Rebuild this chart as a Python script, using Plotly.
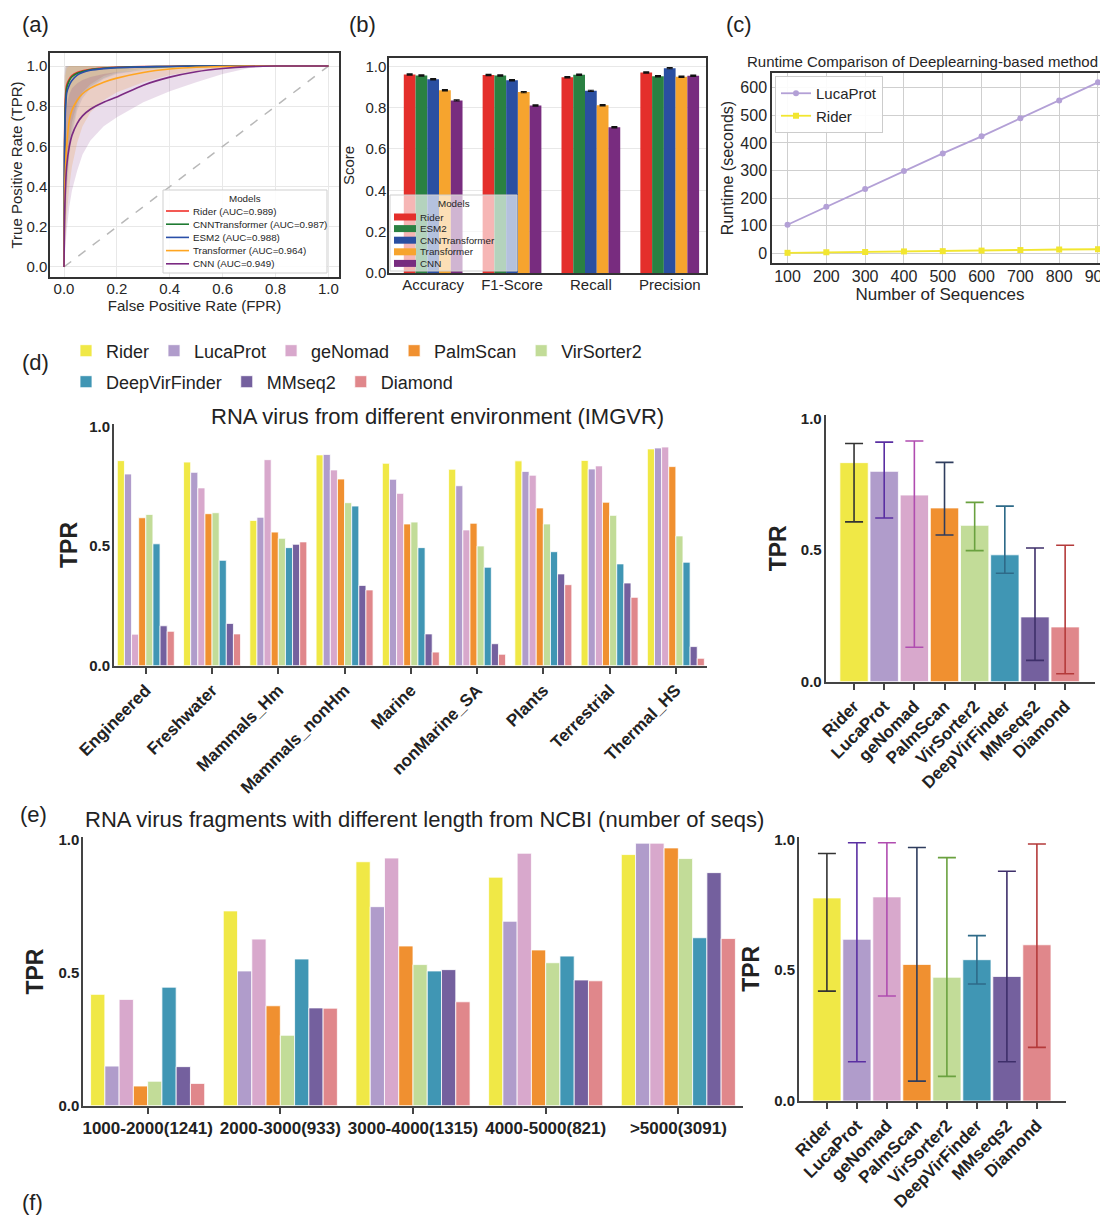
import plotly.graph_objects as go

# The page has an 8px body margin, so the figure occupies page pixels 8..1108 x 8..1220.
PAGE_OFF = 8
W, H = 1100, 1212
def fx(p):
    return (p - PAGE_OFF) / W
def fy(p):
    return 1 - (p - PAGE_OFF) / H

FONT = "Liberation Sans, Arial, Helvetica, sans-serif"
TXT = "#262626"

# ---------------- (a) ROC ----------------
roc_models = ["Rider", "CNNTransformer", "ESM2", "Transformer", "CNN"]
roc_auc = ["0.989", "0.987", "0.988", "0.964", "0.949"]
roc_fpr = [0, 0.002, 0.005, 0.01, 0.02, 0.03, 0.05, 0.07, 0.1, 0.15, 0.2, 0.3, 0.4, 0.5, 0.6, 0.7, 0.8, 1.0]
roc_tpr = {
    "Rider":          [0, 0.62, 0.84, 0.905, 0.935, 0.952, 0.968, 0.976, 0.984, 0.990, 0.994, 0.997, 0.999, 1, 1, 1, 1, 1],
    "CNNTransformer": [0, 0.58, 0.80, 0.890, 0.928, 0.947, 0.964, 0.973, 0.982, 0.989, 0.993, 0.996, 0.998, 1, 1, 1, 1, 1],
    "ESM2":           [0, 0.55, 0.76, 0.865, 0.905, 0.928, 0.955, 0.968, 0.979, 0.987, 0.992, 0.996, 0.998, 1, 1, 1, 1, 1],
    "Transformer":    [0, 0.35, 0.48, 0.600, 0.730, 0.780, 0.830, 0.862, 0.890, 0.920, 0.940, 0.968, 0.985, 0.994, 0.998, 1, 1, 1],
    "CNN":            [0, 0.25, 0.38, 0.500, 0.600, 0.655, 0.715, 0.752, 0.785, 0.820, 0.846, 0.905, 0.945, 0.972, 0.988, 0.997, 1, 1],
}
roc_hi = {
    "Rider":          [0, 0.95, 1, 1, 1, 1, 1, 1, 1, 1, 1, 1, 1, 1, 1, 1, 1, 1],
    "CNNTransformer": [0, 0.92, 1, 1, 1, 1, 1, 1, 1, 1, 1, 1, 1, 1, 1, 1, 1, 1],
    "ESM2":           [0, 0.90, 0.99, 1, 1, 1, 1, 1, 1, 1, 1, 1, 1, 1, 1, 1, 1, 1],
    "Transformer":    [0, 0.80, 0.95, 0.99, 1, 1, 1, 1, 1, 1, 1, 1, 1, 1, 1, 1, 1, 1],
    "CNN":            [0, 0.55, 0.70, 0.80, 0.86, 0.89, 0.915, 0.930, 0.945, 0.960, 0.970, 0.982, 0.990, 0.995, 0.998, 1, 1, 1],
}
roc_lo = {
    "Rider":          [0, 0.10, 0.25, 0.45, 0.62, 0.72, 0.82, 0.87, 0.91, 0.95, 0.97, 0.985, 0.993, 0.998, 1, 1, 1, 1],
    "CNNTransformer": [0, 0.08, 0.22, 0.40, 0.58, 0.68, 0.80, 0.86, 0.90, 0.94, 0.965, 0.982, 0.992, 0.997, 1, 1, 1, 1],
    "ESM2":           [0, 0.06, 0.18, 0.36, 0.55, 0.65, 0.78, 0.84, 0.89, 0.935, 0.96, 0.98, 0.99, 0.997, 1, 1, 1, 1],
    "Transformer":    [0, 0.04, 0.12, 0.25, 0.40, 0.50, 0.62, 0.70, 0.77, 0.83, 0.87, 0.92, 0.955, 0.975, 0.99, 1, 1, 1],
    "CNN":            [0, 0.03, 0.08, 0.18, 0.30, 0.38, 0.48, 0.56, 0.63, 0.70, 0.745, 0.82, 0.875, 0.92, 0.96, 0.99, 1, 1],
}
roc_colors = {"Rider": "#f0302a", "CNNTransformer": "#1f7a32", "ESM2": "#2a4fa8",
              "Transformer": "#ffa520", "CNN": "#7b2a82"}
roc_fill = {"Rider": "rgba(240,48,42,0.16)", "CNNTransformer": "rgba(31,122,50,0.12)",
            "ESM2": "rgba(42,79,168,0.12)", "Transformer": "rgba(255,165,32,0.20)",
            "CNN": "rgba(123,42,130,0.16)"}
diag = [0, 1]

# ---------------- (b) metrics ----------------
b_metrics = ["Accuracy", "F1-Score", "Recall", "Precision"]
b_models = ["Rider", "ESM2", "CNNTransformer", "Transformer", "CNN"]
b_vals = {
    "Rider":          [0.960, 0.958, 0.947, 0.970],
    "ESM2":           [0.955, 0.955, 0.959, 0.952],
    "CNNTransformer": [0.937, 0.932, 0.881, 0.991],
    "Transformer":    [0.884, 0.875, 0.811, 0.949],
    "CNN":            [0.835, 0.810, 0.705, 0.954],
}
b_err = [0.003, 0.003, 0.003, 0.003]
b_colors = {"Rider": "#e42f2b", "ESM2": "#2a8142", "CNNTransformer": "#2a4fa1",
            "Transformer": "#f6a42e", "CNN": "#782c7f"}

# ---------------- (c) runtime ----------------
c_n = [100, 200, 300, 400, 500, 600, 700, 800, 900]
c_lucaprot = [103, 168, 233, 298, 362, 424, 490, 554, 620]
c_rider = [1, 3, 4, 6, 7, 9, 11, 13, 14]

# ---------------- (d) IMGVR environments ----------------
methods = ["Rider", "LucaProt", "geNomad", "PalmScan", "VirSorter2", "DeepVirFinder", "MMseq2", "Diamond"]
method_ticks = ["Rider", "LucaProt", "geNomad", "PalmScan", "VirSorter2", "DeepVirFinder", "MMseqs2", "Diamond"]
m_colors = ["#f0e846", "#b09ccb", "#d8a8cc", "#f09030", "#c2dc98", "#4096b4", "#74609e", "#e0878b"]
err_colors = ["#333333", "#5a2fa2", "#b04cb0", "#2f3d5e", "#6aa13f", "#2e6a88", "#3e2f6a", "#b43a3a"]

d_envs = ["Engineered", "Freshwater", "Mammals_Hm", "Mammals_nonHm", "Marine",
          "nonMarine_SA", "Plants", "Terrestrial", "Thermal_HS"]
d_vals = {
    "Rider":         [0.858, 0.852, 0.608, 0.882, 0.847, 0.822, 0.857, 0.859, 0.907],
    "LucaProt":      [0.802, 0.809, 0.621, 0.884, 0.780, 0.753, 0.813, 0.823, 0.911],
    "geNomad":       [0.132, 0.744, 0.862, 0.819, 0.721, 0.568, 0.797, 0.836, 0.915],
    "PalmScan":      [0.619, 0.636, 0.559, 0.781, 0.593, 0.596, 0.660, 0.684, 0.833],
    "VirSorter2":    [0.633, 0.640, 0.533, 0.682, 0.601, 0.501, 0.593, 0.629, 0.543],
    "DeepVirFinder": [0.510, 0.441, 0.494, 0.668, 0.494, 0.412, 0.477, 0.426, 0.433],
    "MMseq2":        [0.167, 0.177, 0.508, 0.336, 0.133, 0.092, 0.384, 0.346, 0.080],
    "Diamond":       [0.144, 0.133, 0.518, 0.317, 0.057, 0.048, 0.339, 0.286, 0.031],
}
d_mean = [0.832, 0.799, 0.709, 0.660, 0.594, 0.482, 0.246, 0.208]
d_upper = [0.905, 0.910, 0.914, 0.833, 0.681, 0.667, 0.508, 0.518]
d_lower = [0.607, 0.622, 0.131, 0.557, 0.498, 0.412, 0.081, 0.030]

# ---------------- (e) NCBI fragment lengths ----------------
e_lengths = ["1000-2000(1241)", "2000-3000(933)", "3000-4000(1315)", "4000-5000(821)", ">5000(3091)"]
e_vals = {
    "Rider":         [0.419, 0.733, 0.918, 0.860, 0.945],
    "LucaProt":      [0.149, 0.507, 0.749, 0.694, 0.988],
    "geNomad":       [0.400, 0.627, 0.932, 0.950, 0.988],
    "PalmScan":      [0.074, 0.376, 0.601, 0.586, 0.970],
    "VirSorter2":    [0.092, 0.265, 0.531, 0.538, 0.930],
    "DeepVirFinder": [0.446, 0.552, 0.507, 0.563, 0.632],
    "MMseq2":        [0.147, 0.368, 0.512, 0.473, 0.877],
    "Diamond":       [0.084, 0.367, 0.391, 0.470, 0.629],
}
e_mean = [0.776, 0.618, 0.780, 0.522, 0.473, 0.540, 0.476, 0.597]
e_upper = [0.946, 0.987, 0.987, 0.969, 0.930, 0.632, 0.878, 0.982]
e_lower = [0.420, 0.150, 0.401, 0.076, 0.094, 0.447, 0.150, 0.205]

fig = go.Figure()

# (a) bands, diagonal, curves
for m in roc_models:
    fig.add_trace(go.Scatter(x=roc_fpr + roc_fpr[::-1], y=roc_hi[m] + roc_lo[m][::-1],
                             fill="toself", fillcolor=roc_fill[m], line=dict(width=0),
                             mode="lines", showlegend=False, hoverinfo="skip",
                             xaxis="x", yaxis="y"))
fig.add_trace(go.Scatter(x=diag, y=diag, mode="lines",
                         line=dict(color="#b8b8b8", width=1.5, dash="dash"),
                         showlegend=False, xaxis="x", yaxis="y"))
for m, auc in zip(roc_models, roc_auc):
    fig.add_trace(go.Scatter(x=roc_fpr, y=roc_tpr[m], mode="lines",
                             line=dict(color=roc_colors[m], width=1.6, shape="spline", smoothing=0.6),
                             name=f"{m} (AUC={auc})", showlegend=False,
                             xaxis="x", yaxis="y"))

# (b) bars
nb = len(b_models)
bw = 0.149
for i, m in enumerate(b_models):
    fig.add_trace(go.Bar(x=b_metrics, y=b_vals[m], name=m, showlegend=False,
                         marker=dict(color=b_colors[m], line=dict(width=0)),
                         width=bw, offset=-nb * bw / 2 + i * bw,
                         error_y=dict(type="data", array=b_err, color="#111111", thickness=1.2, width=3),
                         xaxis="x2", yaxis="y2"))

# (c) runtime
fig.add_trace(go.Scatter(x=c_n, y=c_lucaprot, mode="lines+markers", name="LucaProt",
                         line=dict(color="#b3a0d6", width=1.8),
                         marker=dict(symbol="circle", size=6, color="#b3a0d6"),
                         legend="legend3", xaxis="x3", yaxis="y3"))
fig.add_trace(go.Scatter(x=c_n, y=c_rider, mode="lines+markers", name="Rider",
                         line=dict(color="#f2e630", width=1.8),
                         marker=dict(symbol="square", size=6, color="#f2e630"),
                         legend="legend3", xaxis="x3", yaxis="y3"))

# (d) left grouped bars
for i, m in enumerate(methods):
    fig.add_trace(go.Bar(x=d_envs, y=d_vals[m], name=m,
                         legend="legend4" if i < 5 else "legend5",
                         marker=dict(color=m_colors[i], line=dict(color="white", width=0.8)),
                         xaxis="x4", yaxis="y4"))
# (d) right summary
fig.add_trace(go.Bar(x=method_ticks, y=d_mean, width=0.94, showlegend=False,
                     marker=dict(color=m_colors, line=dict(color="white", width=0.8)),
                     xaxis="x5", yaxis="y5"))
for i, t in enumerate(method_ticks):
    fig.add_trace(go.Scatter(x=[t], y=[d_mean[i]], mode="markers",
                             marker=dict(size=1, color="rgba(0,0,0,0)"), showlegend=False,
                             error_y=dict(type="data", symmetric=False,
                                          array=[d_upper[i] - d_mean[i]],
                                          arrayminus=[d_mean[i] - d_lower[i]],
                                          color=err_colors[i], thickness=1.6, width=9),
                             xaxis="x5", yaxis="y5"))

# (e) left grouped bars
for i, m in enumerate(methods):
    fig.add_trace(go.Bar(x=e_lengths, y=e_vals[m], name=m, showlegend=False,
                         marker=dict(color=m_colors[i], line=dict(color="white", width=0.8)),
                         xaxis="x6", yaxis="y6"))
# (e) right summary
fig.add_trace(go.Bar(x=method_ticks, y=e_mean, width=0.94, showlegend=False,
                     marker=dict(color=m_colors, line=dict(color="white", width=0.8)),
                     xaxis="x7", yaxis="y7"))
for i, t in enumerate(method_ticks):
    fig.add_trace(go.Scatter(x=[t], y=[e_mean[i]], mode="markers",
                             marker=dict(size=1, color="rgba(0,0,0,0)"), showlegend=False,
                             error_y=dict(type="data", symmetric=False,
                                          array=[e_upper[i] - e_mean[i]],
                                          arrayminus=[e_mean[i] - e_lower[i]],
                                          color=err_colors[i], thickness=1.6, width=9),
                             xaxis="x7", yaxis="y7"))

# ---------------- axes ----------------
reg = dict(family=FONT, size=15, color=TXT)
bold15 = dict(family=FONT, size=15, color="#222", weight="bold")
bold17 = dict(family=FONT, size=17, color="#222", weight="bold")

def box_axis(**kw):
    d = dict(showline=True, linecolor="#333", linewidth=1.5, mirror=True,
             showgrid=True, gridcolor="#e8e8e8", zeroline=False, automargin=False,
             ticks="", tickfont=reg)
    d.update(kw)
    return d

def bar_axis(**kw):
    d = dict(showline=True, linecolor="#444", linewidth=2, showgrid=False, zeroline=False,
             automargin=False, tickfont=bold15)
    d.update(kw)
    return d

def tpr_title(off):
    return dict(text="TPR", font=dict(family=FONT, size=23, color="#222", weight="bold"), standoff=off)

cat_x = dict(type="category", tickangle=-45, ticks="outside", ticklen=6,
             tickwidth=2, tickcolor="#444", tickfont=bold17)
tpr_y = dict(tickvals=[0, 0.5, 1.0], ticktext=["0.0", "0.5", "1.0"], ticks="", ticklabelstandoff=-1)

layout = dict(
    width=W, height=H, margin=dict(l=0, r=0, t=0, b=0, pad=0, autoexpand=False),
    paper_bgcolor="white", plot_bgcolor="white",
    font=dict(family=FONT, color=TXT),
    barmode="group", bargap=0.14, bargroupgap=0,
    showlegend=True,
    # (a)
    xaxis=box_axis(domain=[fx(50), fx(339)], range=[-0.053, 1.04], anchor="y",
                   tickvals=[0, 0.2, 0.4, 0.6, 0.8, 1.0], tickformat=".1f", ticklabelstandoff=-3,
                   title=dict(text="False Positive Rate (FPR)", font=reg, standoff=2)),
    yaxis=box_axis(domain=[fy(277), fy(53)], range=[-0.05, 1.065], anchor="x",
                   tickvals=[0, 0.2, 0.4, 0.6, 0.8, 1.0], tickformat=".1f", ticklabelstandoff=-2,
                   title=dict(text="True Positive Rate (TPR)", font=reg, standoff=5)),
    # (b)
    xaxis2=box_axis(domain=[fx(389), fx(706)], range=[-0.56, 3.46], anchor="y2",
                    showgrid=False, type="category", ticklabelstandoff=-3),
    yaxis2=box_axis(domain=[fy(273), fy(58)], range=[0, 1.04], anchor="x2",
                    tickvals=[0, 0.2, 0.4, 0.6, 0.8, 1.0], tickformat=".1f", ticklabelstandoff=-2,
                    title=dict(text="Score", font=reg, standoff=7)),
    # (c)
    xaxis3=box_axis(domain=[fx(772), 1.0], range=[60, 925.8], anchor="y3",
                    gridcolor="#cfcfcf", tickvals=c_n, mirror=True, ticklabeloverflow="allow",
                    tickfont=dict(family=FONT, size=16, color=TXT), ticklabelstandoff=-2,
                    title=dict(text="Number of Sequences", font=dict(family=FONT, size=17, color=TXT), standoff=4)),
    yaxis3=box_axis(domain=[fy(263), fy(73)], range=[-36, 654], anchor="x3",
                    gridcolor="#cfcfcf", mirror=False,
                    tickvals=[0, 100, 200, 300, 400, 500, 600],
                    tickfont=dict(family=FONT, size=16, color=TXT),
                    title=dict(text="Runtime (seconds)", font=dict(family=FONT, size=16, color=TXT), standoff=3)),
    # (d) left
    xaxis4=bar_axis(domain=[fx(114), fx(707)], range=[-0.48, 8.47], anchor="y4", **cat_x),
    yaxis4=bar_axis(domain=[fy(665.7), fy(424.3)], range=[0, 1.01], anchor="x4",
                    title=tpr_title(5), **tpr_y),
    # (d) right
    xaxis5=bar_axis(domain=[fx(825.7), fx(1095)], range=[-0.94, 7.99], anchor="y5", **cat_x),
    yaxis5=bar_axis(domain=[fy(681.7), fy(415)], range=[0, 1.013], anchor="x5",
                    title=tpr_title(8), **tpr_y),
    # (e) left
    xaxis6=bar_axis(domain=[fx(83.3), fx(742.7)], range=[-0.485, 4.485], anchor="y6",
                    type="category", tickangle=0, ticks="outside", ticklen=6,
                    tickwidth=2, tickcolor="#444", tickfont=bold17),
    yaxis6=bar_axis(domain=[fy(1105.7), fy(837.3)], range=[0, 1.01], anchor="x6",
                    title=tpr_title(8), **tpr_y),
    # (e) right
    xaxis7=bar_axis(domain=[fx(799), fx(1066)], range=[-0.93, 7.97], anchor="y7", **cat_x),
    yaxis7=bar_axis(domain=[fy(1101), fy(836.7)], range=[0, 1.01], anchor="x7",
                    title=tpr_title(8), **tpr_y),
    # legends
    legend3=dict(x=fx(775), y=fy(76), xanchor="left", yanchor="top",
                 bgcolor="rgba(255,255,255,0.9)", bordercolor="#cccccc", borderwidth=1,
                 font=dict(family=FONT, size=15, color=TXT), itemwidth=30, tracegroupgap=0),
    legend4=dict(x=fx(66), y=fy(351), xanchor="left", yanchor="middle", orientation="h",
                 bgcolor="rgba(0,0,0,0)", font=dict(family=FONT, size=18, color="#222"),
                 itemwidth=30),
    legend5=dict(x=fx(66), y=fy(382), xanchor="left", yanchor="middle", orientation="h",
                 bgcolor="rgba(0,0,0,0)", font=dict(family=FONT, size=18, color="#222"),
                 itemwidth=30),
)

lab = dict(family=FONT, size=22, color="#222")
ttl = dict(family=FONT, size=22, color="#222")
leg_font = dict(family=FONT, size=9.8, color=TXT)
annotations = [
    dict(text="(a)", x=fx(20), y=fy(24), xanchor="left", yanchor="middle", font=lab),
    dict(text="(b)", x=fx(347), y=fy(24), xanchor="left", yanchor="middle", font=lab),
    dict(text="(c)", x=fx(724), y=fy(25), xanchor="left", yanchor="middle", font=lab),
    dict(text="(d)", x=fx(20), y=fy(362), xanchor="left", yanchor="middle", font=lab),
    dict(text="(e)", x=fx(18), y=fy(814), xanchor="left", yanchor="middle", font=lab),
    dict(text="(f)", x=fx(20), y=fy(1202), xanchor="left", yanchor="middle", font=lab),
    dict(text="Runtime Comparison of Deeplearning-based method", x=fx(745), y=fy(61),
         xanchor="left", yanchor="middle", font=dict(family=FONT, size=15, color=TXT)),
    dict(text="RNA virus from different environment (IMGVR)", x=fx(437.5), y=fy(416),
         xanchor="center", yanchor="middle", font=ttl),
    dict(text="RNA virus fragments with different length from NCBI (number of seqs)",
         x=fx(83), y=fy(819), xanchor="left", yanchor="middle", font=ttl),
]
shapes = []

# legend box for (a): lines with model names
shapes.append(dict(type="rect", x0=fx(163), x1=fx(327), y0=fy(190), y1=fy(273),
                   fillcolor="rgba(255,255,255,0.85)", line=dict(color="#cfcfcf", width=1)))
annotations.append(dict(text="Models", x=fx(245), y=fy(198), xanchor="center",
                        yanchor="middle", font=leg_font))
for i, (m, auc) in enumerate(zip(roc_models, roc_auc)):
    yy = 211 + i * 13.2
    shapes.append(dict(type="line", x0=fx(166), x1=fx(189), y0=fy(yy), y1=fy(yy),
                       line=dict(color=roc_colors[m], width=1.6)))
    annotations.append(dict(text=f"{m} (AUC={auc})", x=fx(191), y=fy(yy), xanchor="left",
                            yanchor="middle", font=leg_font))

# legend box for (b): swatches with model names
shapes.append(dict(type="rect", x0=fx(390), x1=fx(517), y0=fy(195), y1=fy(271),
                   fillcolor="rgba(255,255,255,0.65)", line=dict(color="#cfcfcf", width=1)))
annotations.append(dict(text="Models", x=fx(453.5), y=fy(204), xanchor="center",
                        yanchor="middle", font=leg_font))
for i, m in enumerate(b_models):
    yy = 217 + i * 11.6
    shapes.append(dict(type="rect", x0=fx(394), x1=fx(416), y0=fy(yy + 3.5), y1=fy(yy - 3.5),
                       fillcolor=b_colors[m], line=dict(width=0)))
    annotations.append(dict(text=m, x=fx(418), y=fy(yy), xanchor="left",
                            yanchor="middle", font=leg_font))

for a in annotations:
    a.update(xref="paper", yref="paper", showarrow=False)
for s in shapes:
    s.update(xref="paper", yref="paper", layer="above")
layout["annotations"] = annotations
layout["shapes"] = shapes

fig.update_layout(**layout)
fig.write_html("out.html")
